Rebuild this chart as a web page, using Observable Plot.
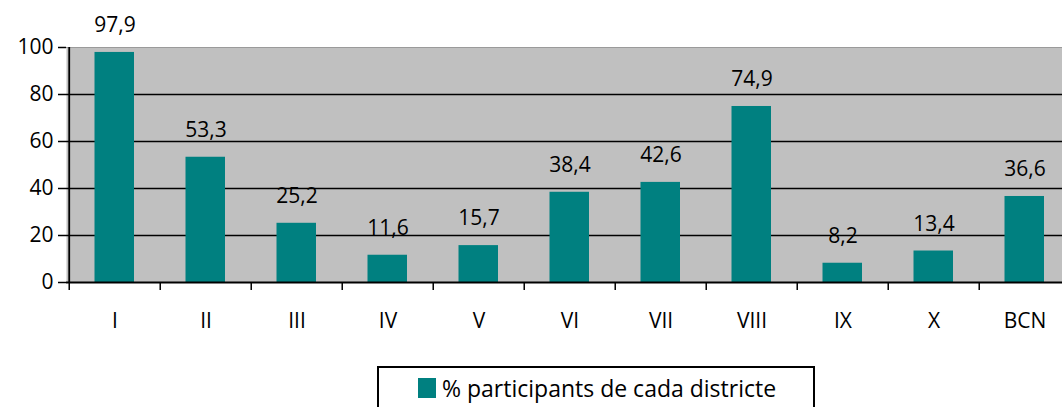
<!DOCTYPE html>
<html>
<head>
<meta charset="utf-8">
<script src="https://cdn.jsdelivr.net/npm/d3@7"></script>
<script src="https://cdn.jsdelivr.net/npm/@observablehq/plot@0.6"></script>
<style>
  html, body { margin: 0; padding: 0; background: #fff; overflow: hidden; }
  #wrap { position: relative; width: 1062px; height: 407px; overflow: hidden; }
  #chart svg { max-width: none !important; display: block; }
  #legend {
    position: absolute; left: 377px; top: 366px; width: 434px; height: 50px;
    border: 2px solid #000; background: #fff; font-family: "Open Sans", sans-serif;
  }
  #legend .sw { position: absolute; left: 39px; top: 10px; width: 18px; height: 20px; background: #008080; }
  #legend .lbl { position: absolute; left: 63px; top: 8.6px; font-size: 23px; line-height: 23px; color: #000; white-space: nowrap; }
</style>
</head>
<body>
<div id="wrap">
  <div id="chart"></div>
  <div id="legend"><span class="sw"></span><span class="lbl" id="legendText"></span></div>
</div>
<script>
const districts = ["I", "II", "III", "IV", "V", "VI", "VII", "VIII", "IX", "X", "BCN"];
const values = [97.9, 53.3, 25.2, 11.6, 15.7, 38.4, 42.6, 74.9, 8.2, 13.4, 36.6];
const yTicks = [0, 20, 40, 60, 80, 100];
const gridValues = [20, 40, 60, 80];
const seriesName = "% participants de cada districte";

const data = districts.map((d, i) => ({district: d, value: values[i]}));

const W = 1073, ML = 66, MR = 0;
const step = (W - ML - MR) / districts.length;
const fmt = v => v.toFixed(1).replace(".", ",");

const chart = Plot.plot({
  width: W,
  height: 345,
  marginLeft: ML,
  marginRight: MR,
  marginTop: 47,
  marginBottom: 63,
  style: {fontFamily: "Open Sans, sans-serif", fontSize: "21px", color: "#000", background: "transparent", maxWidth: "none"},
  x: {domain: districts, padding: 0},
  y: {domain: [0, 100]},
  marks: [
    Plot.frame({fill: "#C0C0C0", stroke: "none"}),
    Plot.ruleY(gridValues, {stroke: "#000", strokeWidth: 1.6}),
    Plot.ruleY([100], {stroke: "#9a9a9a", strokeWidth: 1.2}),
    Plot.barY(data, {x: "district", y: "value", fill: "#008080", insetLeft: 25.5, insetRight: 26}),
    Plot.text(data, {x: "district", y: "value", text: d => fmt(d.value), dy: -27, lineAnchor: "middle", fill: "#000", fontSize: 21}),
    Plot.ruleY([0], {stroke: "#000", strokeWidth: 1.8}),
    Plot.ruleX([districts[0]], {x: d => d, dx: -step / 2, y1: 0, y2: 100, stroke: "#000", strokeWidth: 1.8}),
    Plot.ruleX(districts, {x: d => d, dx: -step / 2, y1: 0, y2: 0, insetBottom: -8, stroke: "#000", strokeWidth: 1.5}),
    Plot.axisY({ticks: yTicks, tickSize: 8, tickPadding: 5, strokeWidth: 1.5, fontSize: 21, label: null}),
    Plot.axisX({tickSize: 0, tickPadding: 31, fontSize: 21, label: null})
  ]
});
document.getElementById("chart").appendChild(chart);
document.getElementById("legendText").textContent = seriesName;
</script>
</body>
</html>
